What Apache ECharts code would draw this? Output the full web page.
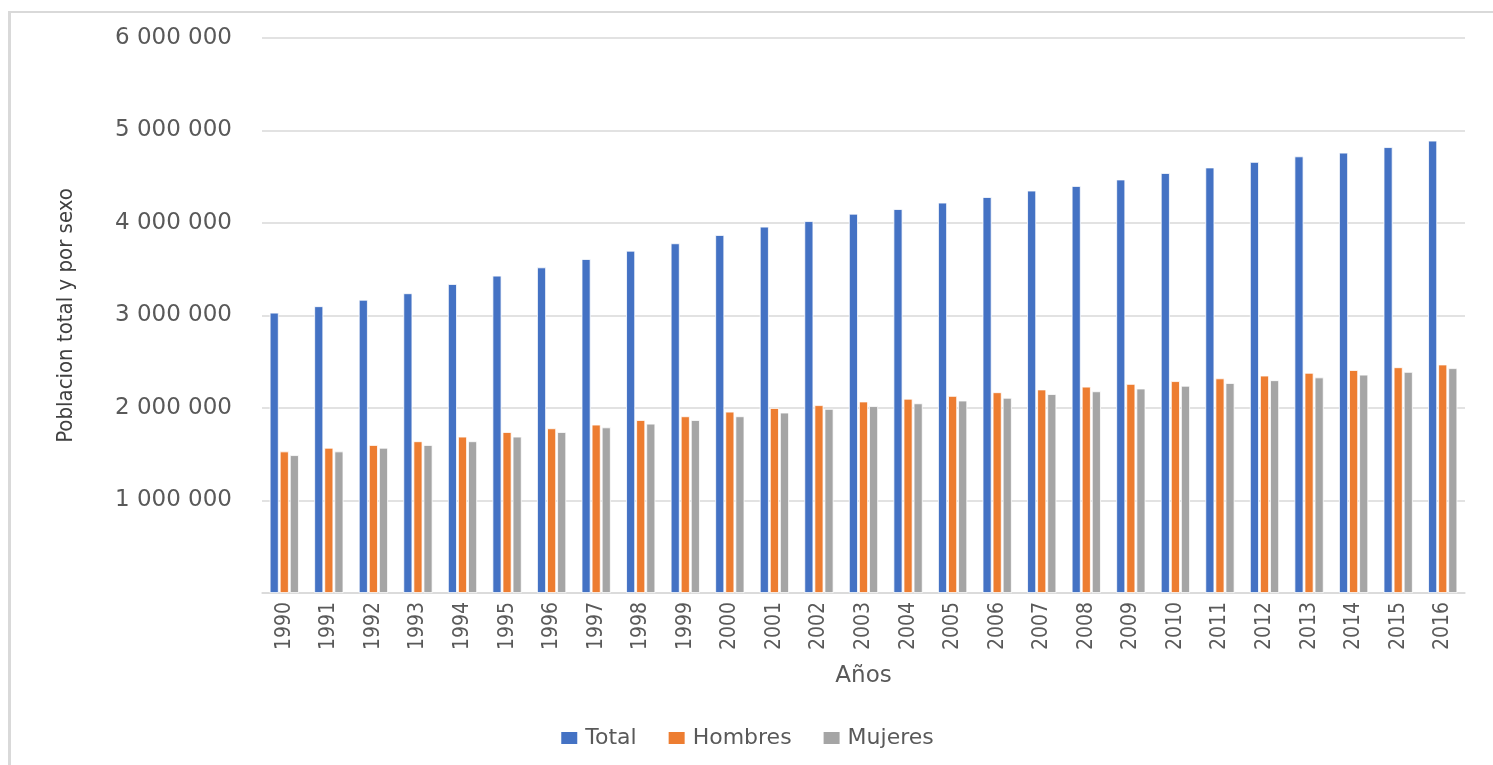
<!DOCTYPE html>
<html><head><meta charset="utf-8">
<script src="https://cdn.jsdelivr.net/npm/echarts@6/dist/echarts.min.js"></script>
<style>
html,body{margin:0;padding:0;background:#fff;}
#frame{position:absolute;left:8px;top:11px;width:1485px;height:754px;border-left:3px solid #d9d9d9;border-top:2px solid #d9d9d9;box-sizing:border-box;}
#c{position:absolute;left:0;top:0;width:1493px;height:765px;}
</style></head><body>
<div id="frame"></div>
<div id="c"></div>
<script>
const years = ['1990','1991','1992','1993','1994','1995','1996','1997','1998','1999','2000','2001','2002','2003','2004','2005','2006','2007','2008','2009','2010','2011','2012','2013','2014','2015','2016'];
const total = [3030000,3100000,3170000,3240000,3340000,3430000,3520000,3610000,3700000,3780000,3870000,3960000,4020000,4100000,4150000,4220000,4280000,4350000,4400000,4470000,4540000,4600000,4660000,4720000,4760000,4820000,4890000];
const hombres = [1530000,1570000,1600000,1640000,1690000,1740000,1780000,1820000,1870000,1910000,1960000,2000000,2030000,2070000,2100000,2130000,2170000,2200000,2230000,2260000,2290000,2320000,2350000,2380000,2410000,2440000,2470000];
const mujeres = [1490000,1530000,1570000,1600000,1640000,1690000,1740000,1790000,1830000,1870000,1910000,1950000,1990000,2020000,2050000,2080000,2110000,2150000,2180000,2210000,2240000,2270000,2300000,2330000,2360000,2390000,2430000];
const seriesNames = ['Total','Hombres','Mujeres'];
const colors = ['#4472C4','#ED7D31','#A5A5A5'];

const chart = echarts.init(document.getElementById('c'));
const fmt = v => String(v).replace(/\B(?=(\d{3})+(?!\d))/g, ' ');
const mk = (name, data, i) => ({
  name, type: 'bar', data, barWidth: 9, barGap: '12%',
  itemStyle: { color: colors[i], borderColor: '#ffffff', borderWidth: 0.8 }
});
chart.setOption({
  animation: false,
  grid: { left: 262, right: 28, top: 38, bottom: 172, containLabel: false },
  legend: {
    data: seriesNames, top: 722, left: 'center', itemWidth: 18, itemHeight: 14, itemGap: 30,
    icon: 'rect',
    textStyle: { fontFamily: 'DejaVu Sans', fontSize: 22, color: '#595959', padding: [0, 0, 0, 2] }
  },
  xAxis: {
    type: 'category', data: years,
    name: 'Años', nameLocation: 'middle', nameGap: 72,
    nameTextStyle: { fontFamily: 'DejaVu Sans', fontSize: 23, color: '#595959' },
    axisLine: { lineStyle: { color: '#d9d9d9', width: 1.5 } },
    axisTick: { show: false },
    axisLabel: { rotate: 90, margin: 9, fontFamily: 'Liberation Sans Narrow, DejaVu Sans Condensed', fontSize: 21, color: '#595959' }
  },
  yAxis: {
    type: 'value', min: 0, max: 6000000, interval: 1000000,
    name: 'Poblacion total y por sexo', nameLocation: 'middle', nameGap: 185, nameRotate: 90,
    nameTextStyle: { fontFamily: 'Liberation Sans Narrow, DejaVu Sans Condensed', fontSize: 22, color: '#404040' },
    axisLine: { show: false }, axisTick: { show: false },
    axisLabel: { formatter: v => v === 0 ? '' : fmt(v), margin: 30, fontFamily: 'DejaVu Sans', fontSize: 23, color: '#595959' },
    splitLine: { lineStyle: { color: '#d9d9d9', width: 1.5 } }
  },
  series: [mk('Total', total, 0), mk('Hombres', hombres, 1), mk('Mujeres', mujeres, 2)]
});
</script>
</body></html>
